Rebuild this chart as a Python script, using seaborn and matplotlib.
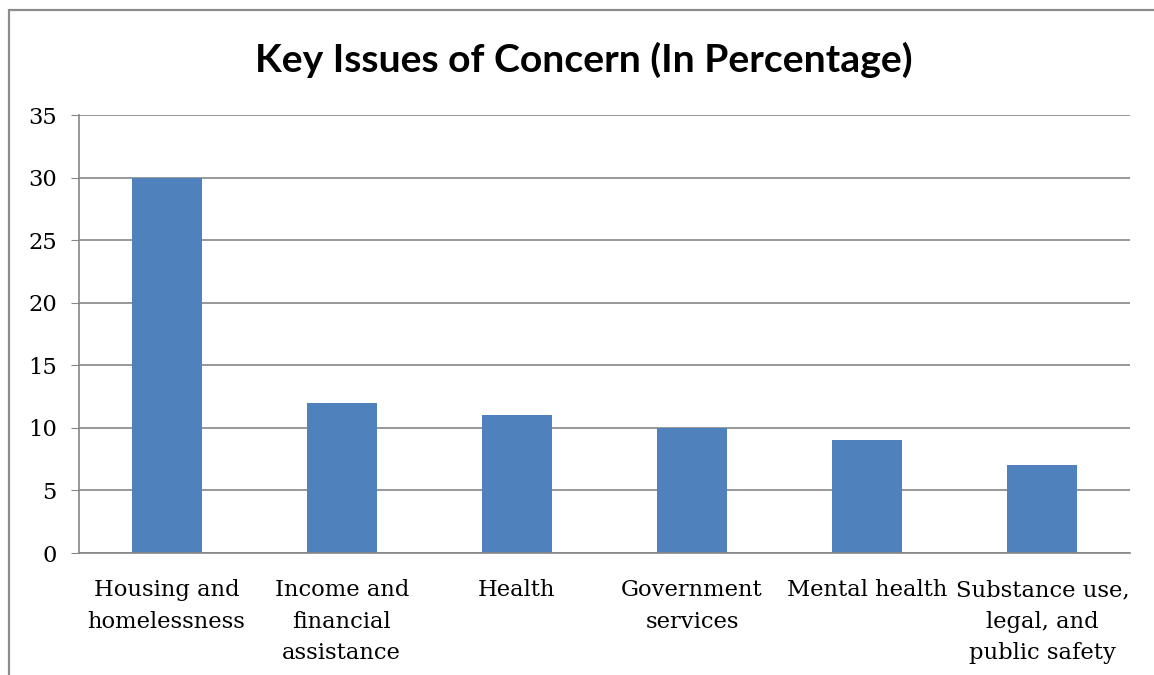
import matplotlib
matplotlib.use("Agg")
import matplotlib.pyplot as plt
from matplotlib.patches import Rectangle
import seaborn as sns

categories = [
    "Housing and\nhomelessness",
    "Income and\nfinancial\nassistance",
    "Health",
    "Government\nservices",
    "Mental health",
    "Substance use,\nlegal, and\npublic safety",
]
values = [30, 12, 11, 10, 9, 7]
y_ticks = [0, 5, 10, 15, 20, 25, 30, 35]

sns.set_style("white")
plt.rcParams["font.family"] = ["DejaVu Serif"]
plt.rcParams["text.color"] = "black"
plt.rcParams["xtick.color"] = "black"
plt.rcParams["ytick.color"] = "black"

W, H = 1154, 675
fig = plt.figure(figsize=(W / 100, H / 100), dpi=100)
fig.patch.set_facecolor("white")

ax = fig.add_axes([79 / W, 1 - 553 / H, (1130 - 79) / W, (553 - 115) / H])

sns.barplot(x=categories, y=values, color="#4F81BD", saturation=1, width=0.4,
            linewidth=0, ax=ax)

grid_c = "#868686"
ax.set_ylim(0, 35)
ax.set_xlim(-0.5, len(categories) - 0.5)
ax.set_yticks(y_ticks)
ax.yaxis.grid(True, color=grid_c, linewidth=1.2)
ax.set_axisbelow(True)
ax.tick_params(axis="y", which="major", direction="out", length=6, color=grid_c,
               labelsize=16.3, pad=10, left=True, labelcolor="black")
ax.set_xticks(range(len(categories)))
ax.set_xticklabels(categories, fontsize=16.3, linespacing=1.55)
ax.tick_params(axis="x", which="major", length=0, pad=19, labelcolor="black")
ax.set_xticks([i - 0.5 for i in range(len(categories) + 1)], minor=True)
ax.tick_params(axis="x", which="minor", direction="out", length=6, color=grid_c, width=1.2)
for s in ["top", "right"]:
    ax.spines[s].set_visible(False)
for s in ["left", "bottom"]:
    ax.spines[s].set_color(grid_c)
    ax.spines[s].set_linewidth(1.2)
ax.set_xlabel("")
ax.set_ylabel("")

fig.text(584 / W, 1 - 60 / H, "Key Issues of Concern (In Percentage)",
         ha="center", va="center", fontsize=28.2, fontweight="bold",
         color="black", family=["Lato", "DejaVu Sans"])

# chart frame
fig.add_artist(Rectangle((8.5 / W, -0.1), 1.2, 1 - 9.5 / H + 0.1,
                         transform=fig.transFigure, fill=False,
                         edgecolor="#8c8c8c", linewidth=1.6))

fig.savefig("out.png", dpi=100)
